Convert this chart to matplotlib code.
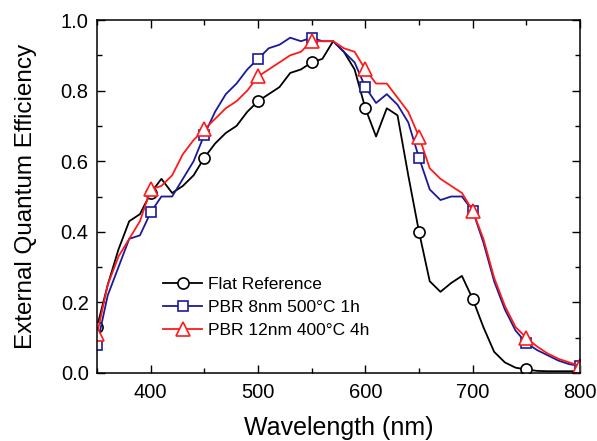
import numpy as np
import matplotlib
matplotlib.use("Agg")
import matplotlib.pyplot as plt
from matplotlib.ticker import MultipleLocator, FormatStrFormatter

plt.rcParams['font.family'] = ['Liberation Sans', 'DejaVu Sans']

wavelength = list(range(350, 801, 10))

flat_ref = [0.13, 0.25, 0.35, 0.43, 0.45, 0.51, 0.55, 0.51, 0.53, 0.56,
            0.61, 0.65, 0.68, 0.70, 0.74, 0.77, 0.79, 0.81, 0.85, 0.86,
            0.88, 0.89, 0.94, 0.91, 0.86, 0.75, 0.67, 0.75, 0.73, 0.56,
            0.40, 0.26, 0.23, 0.255, 0.275, 0.21, 0.13, 0.06, 0.03, 0.015,
            0.01, 0.006, 0.005, 0.005, 0.005, 0.005]

pbr8 = [0.08, 0.22, 0.30, 0.38, 0.39, 0.455, 0.50, 0.50, 0.55, 0.60,
        0.675, 0.74, 0.79, 0.82, 0.86, 0.89, 0.92, 0.93, 0.95, 0.94,
        0.95, 0.94, 0.94, 0.91, 0.88, 0.81, 0.765, 0.79, 0.76, 0.71,
        0.61, 0.52, 0.49, 0.50, 0.50, 0.46, 0.37, 0.26, 0.18, 0.12,
        0.085, 0.065, 0.05, 0.035, 0.025, 0.02]

pbr12 = [0.11, 0.25, 0.33, 0.38, 0.43, 0.52, 0.53, 0.56, 0.62, 0.66,
         0.69, 0.72, 0.75, 0.77, 0.80, 0.84, 0.86, 0.88, 0.90, 0.91,
         0.94, 0.94, 0.94, 0.92, 0.91, 0.86, 0.82, 0.82, 0.78, 0.74,
         0.67, 0.58, 0.55, 0.53, 0.51, 0.46, 0.38, 0.27, 0.19, 0.13,
         0.10, 0.075, 0.055, 0.04, 0.03, 0.02]

labels = ['Flat Reference', 'PBR 8nm 500\u00b0C 1h', 'PBR 12nm 400\u00b0C 4h']

fig = plt.figure(figsize=(5.97, 4.41), dpi=100)
ax = fig.add_axes([0.1625, 0.1542, 0.809, 0.8004])

series = [
    (flat_ref, 'black', 'o', 8.0),
    (pbr8, '#1a1a99', 's', 7.5),
    (pbr12, '#ff1a1a', '^', 9.5),
]
for (vals, col, mk, ms), lab in zip(series, labels):
    ax.plot(wavelength, vals, color=col, lw=1.3, marker=mk, ms=ms,
            markevery=5, mfc='white', mec=col, mew=1.2, label=lab)

ax.set_xlim(350, 800)
ax.set_ylim(0, 1.0)
ax.xaxis.set_major_locator(MultipleLocator(100))
ax.xaxis.set_minor_locator(MultipleLocator(50))
ax.yaxis.set_major_locator(MultipleLocator(0.2))
ax.yaxis.set_minor_locator(MultipleLocator(0.1))
ax.yaxis.set_major_formatter(FormatStrFormatter('%.1f'))
ax.tick_params(which='both', direction='in', top=True, right=True, labelsize=14.5)
ax.tick_params(which='major', length=6, width=1)
ax.tick_params(which='minor', length=3.5, width=1)
ax.tick_params(axis='x', pad=7)
ax.tick_params(axis='y', pad=6)
for s in ax.spines.values():
    s.set_linewidth(1.1)

ax.set_xlabel('Wavelength (nm)', fontsize=18, labelpad=10)
ax.set_ylabel('External Quantum Efficiency', fontsize=17.5, labelpad=17)

ax.legend(loc='lower left', bbox_to_anchor=(0.123, 0.08), frameon=False,
          fontsize=12.5, handlelength=2.25, handletextpad=0.3, labelspacing=0.45,
          borderaxespad=0)

fig.savefig('out.png', dpi=100)
